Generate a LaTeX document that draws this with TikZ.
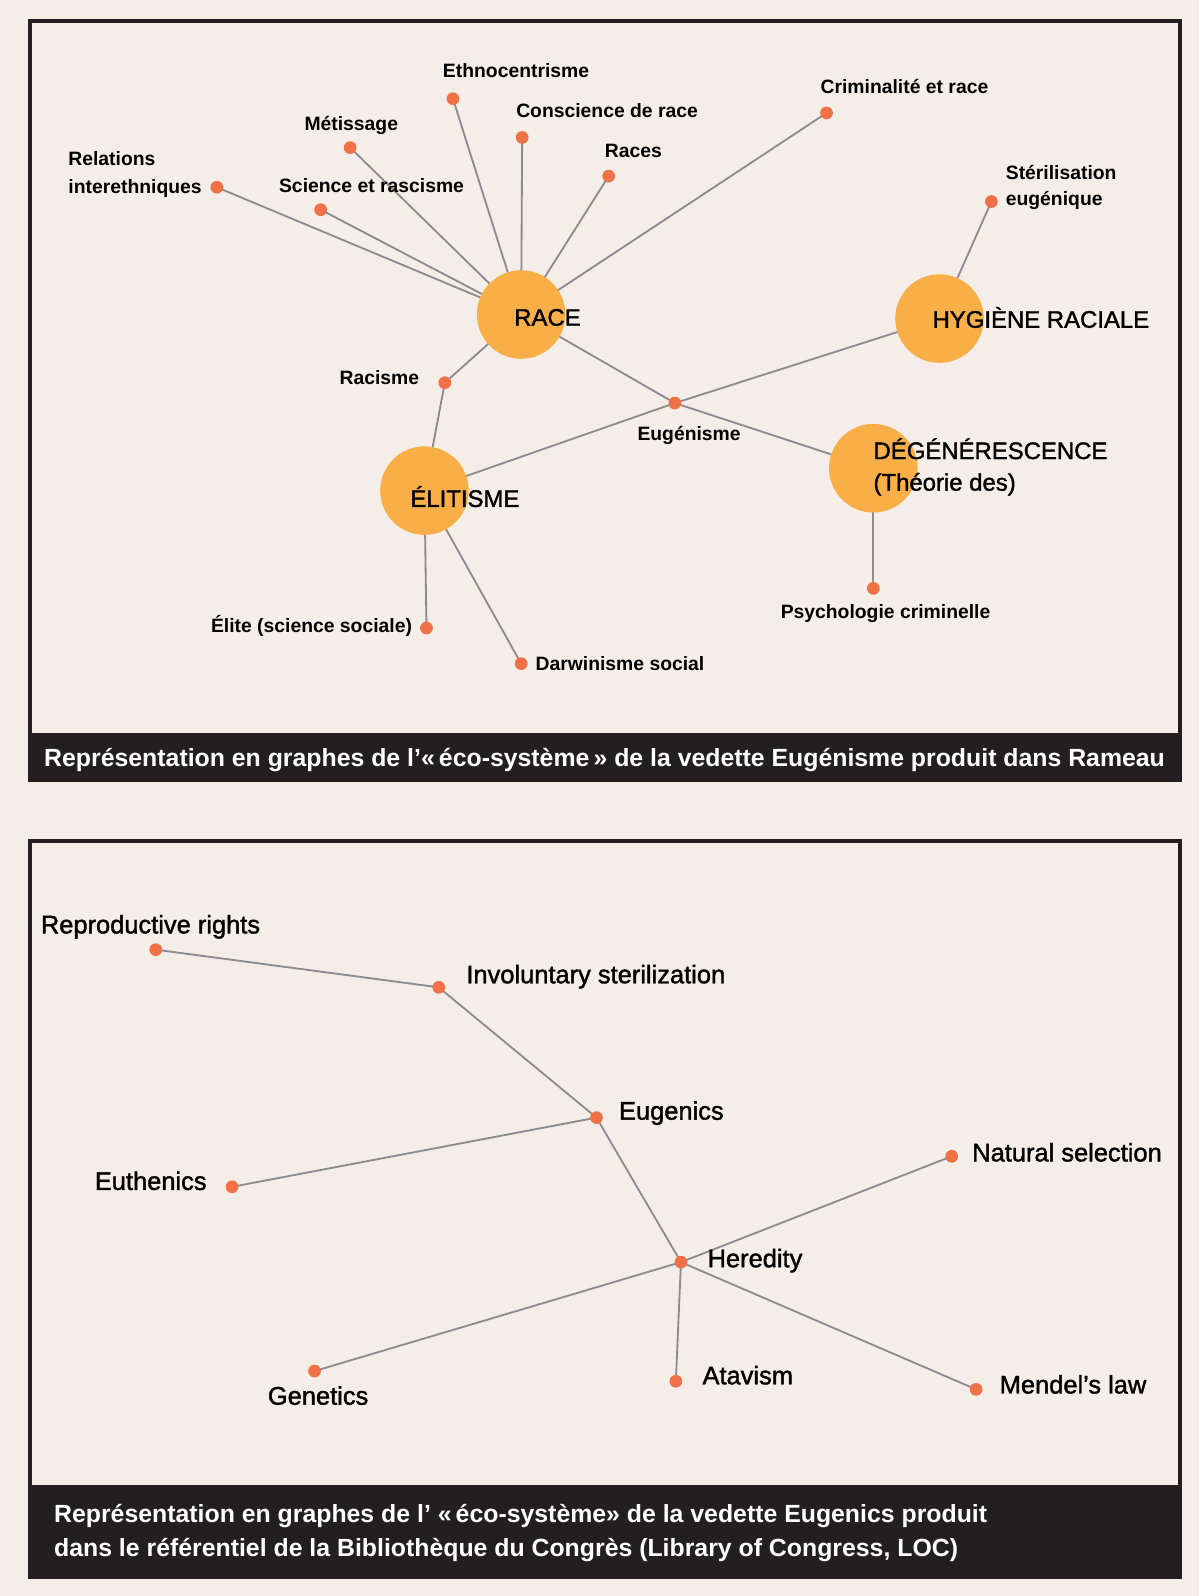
\documentclass[tikz,border=0pt]{standalone}
\usepackage{fontspec}
\setmainfont{Liberation Sans}
\newfontfamily\medfont{Liberation Sans}[FakeBold=1.5]
\definecolor{bgc}{RGB}{245,237,232}
\definecolor{darkc}{RGB}{35,31,32}
\definecolor{dotc}{RGB}{240,112,72}
\definecolor{hubc}{RGB}{249,175,72}
\definecolor{edgec}{RGB}{138,140,144}
\pgfdeclarelayer{bglayer}
\pgfdeclarelayer{edgelayer}
\pgfsetlayers{bglayer,edgelayer,main}
\begin{document}
\begin{tikzpicture}[x=1pt,y=-1pt,
  dot/.style={circle,fill=dotc,inner sep=0pt,minimum size=12.5pt},
  hub/.style={circle,fill=hubc,inner sep=0pt,minimum size=87pt},
  edge/.style={draw=edgec,line width=1.8pt},
  frame/.style={draw=darkc,line width=3.9pt},
  bar/.style={fill=darkc},
  lab/.style={font=\fontsize{19}{23}\selectfont\bfseries,inner sep=0pt,text=black},
  biglab/.style={font=\medfont\fontsize{23.5}{28}\selectfont,inner sep=0pt,text=black},
  blab/.style={font=\medfont\fontsize{25}{29}\selectfont,inner sep=0pt,text=black},
  captxt/.style={font=\fontsize{24.4}{28}\selectfont\bfseries,inner sep=0pt,text=white}]
\useasboundingbox (0,0) rectangle (1178,1568);
\begin{pgfonlayer}{bglayer}
  \fill[bgc] (0,0) rectangle (1178,1568);
  \draw[frame] (29.5,20.7) rectangle (1159,745);
  \fill[bar] (27.5,720) rectangle (1161,768);
  \draw[frame] (29.5,826) rectangle (1159,1480);
  \fill[bar] (27.5,1459) rectangle (1161,1551);
\end{pgfonlayer}

% ---------- top graph ----------
\node[hub] (race) at (512,309) {};
\node[hub] (hyg) at (923,313) {};
\node[hub] (eli) at (417,482) {};
\node[hub] (deg) at (858,460) {};

\node[dot] (rel) at (213,184) {};
\node[dot] (sci) at (315,206) {};
\node[dot] (met) at (344,145) {};
\node[dot] (eth) at (445,97) {};
\node[dot] (con) at (513,135) {};
\node[dot] (rcs) at (598,173) {};
\node[dot] (cri) at (812,111) {};
\node[dot] (ste) at (974,198) {};
\node[dot] (rac) at (437,376) {};
\node[dot] (eug) at (663,396) {};
\node[dot] (elt) at (419,617) {};
\node[dot] (dar) at (512,652) {};
\node[dot] (psy) at (858,578) {};

\node[lab,anchor=base west] (relA) at (67,163) {Relations};
\node[lab,anchor=base west] (relB) at (67,190) {interethniques};
\node[lab,anchor=base west] (sciL) at (274,189) {Science et rascisme};
\node[lab,anchor=base west] (metL) at (299,128) {Métissage};
\node[lab,anchor=base west] (ethL) at (435,76) {Ethnocentrisme};
\node[lab,anchor=base west] (conL) at (507,115) {Conscience de race};
\node[lab,anchor=base west] (rcsL) at (594,155) {Races};
\node[lab,anchor=base west] (criL) at (806,92) {Criminalité et race};
\node[lab,anchor=base west] (steA) at (988,176) {Stérilisation};
\node[lab,anchor=base west] (steB) at (988,202) {eugénique};
\node[lab,anchor=base east] (racL) at (412,378) {Racisme};
\node[lab,anchor=base] (eugL) at (677,433) {Eugénisme};
\node[lab,anchor=base east] (eltL) at (405,621) {Élite (science sociale)};
\node[lab,anchor=base west] (darL) at (526,659) {Darwinisme social};
\node[lab,anchor=base] (psyL) at (870,608) {Psychologie criminelle};

\node[biglab,anchor=base west] (raceL) at (505,320) {RACE};
\node[biglab,anchor=base west] (hygL) at (916,322) {HYGIÈNE RACIALE};
\node[biglab,anchor=base west] (eliL) at (403,498) {ÉLITISME};
\node[biglab,anchor=base west] (degA) at (858,451) {DÉGÉNÉRESCENCE};
\node[biglab,anchor=base west] (degB) at (858,482) {(Théorie des)};

\begin{pgfonlayer}{edgelayer}
  \foreach \n in {rel,sci,met,eth,con,rcs,cri,rac,eug}
    \draw[edge] (race.center) -- (\n.center);
  \draw[edge] (rac.center) -- (eli.center);
  \draw[edge] (eli.center) -- (eug.center) -- (hyg.center);
  \draw[edge] (eug.center) -- (deg.center);
  \draw[edge] (hyg.center) -- (ste.center);
  \draw[edge] (deg.center) -- (psy.center);
  \draw[edge] (eli.center) -- (elt.center);
  \draw[edge] (eli.center) -- (dar.center);
\end{pgfonlayer}

\node[captxt,anchor=base] (capA) at (594,753) {Représentation en graphes de l’«\,éco-système\,» de la vedette Eugénisme produit dans Rameau};

% ---------- bottom graph ----------
\node[dot] (rep) at (153,933) {};
\node[dot] (inv) at (431,970) {};
\node[dot] (eun) at (586,1098) {};
\node[dot] (eut) at (228,1166) {};
\node[dot] (nat) at (935,1136) {};
\node[dot] (her) at (669,1240) {};
\node[dot] (gen) at (309,1347) {};
\node[dot] (ata) at (664,1357) {};
\node[dot] (men) at (959,1365) {};

\node[blab,anchor=base west] (repL) at (40,917) {Reproductive rights};
\node[blab,anchor=base west] (invL) at (458,966) {Involuntary sterilization};
\node[blab,anchor=base west] (eunL) at (608,1100) {Eugenics};
\node[blab,anchor=base west] (eutL) at (93,1169) {Euthenics};
\node[blab,anchor=base west] (natL) at (955,1141) {Natural selection};
\node[blab,anchor=base west] (herL) at (695,1245) {Heredity};
\node[blab,anchor=base west] (genL) at (263,1380) {Genetics};
\node[blab,anchor=base west] (ataL) at (690,1360) {Atavism};
\node[blab,anchor=base west] (menL) at (982,1369) {Mendel’s law};

\begin{pgfonlayer}{edgelayer}
  \draw[edge] (rep.center) -- (inv.center) -- (eun.center) -- (her.center);
  \draw[edge] (eun.center) -- (eut.center);
  \foreach \n in {nat,gen,ata,men}
    \draw[edge] (her.center) -- (\n.center);
\end{pgfonlayer}

\node[captxt,anchor=base west] (capB1) at (53,1496) {Représentation en graphes de l’ «\,éco-système» de la vedette Eugenics produit};
\node[captxt,anchor=base west] (capB2) at (53,1529) {dans le référentiel de la Bibliothèque du Congrès (Library of Congress, LOC)};
\end{tikzpicture}
\end{document}
